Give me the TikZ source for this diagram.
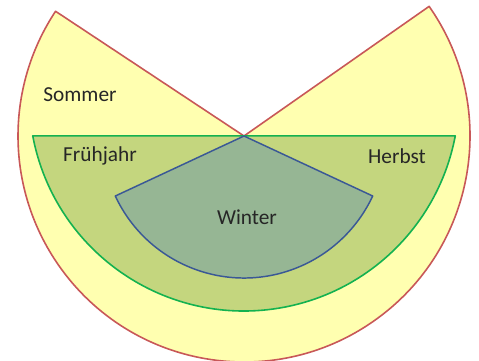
\documentclass[tikz,border=0pt]{standalone}
\usepackage{fontspec}
\setmainfont{Carlito}
\usepackage{tikz}

\definecolor{gelb}{RGB}{255,255,176}
\definecolor{rotlinie}{RGB}{200,88,88}
\definecolor{gruen}{RGB}{196,214,126}
\definecolor{gruenlinie}{RGB}{20,178,80}
\definecolor{blaugruen}{RGB}{150,182,148}
\definecolor{blaulinie}{RGB}{58,88,150}

\tikzset{
  jahreszeit/.style={font=\fontsize{16}{19}\selectfont, text=black!85},
}

\begin{document}
\begin{tikzpicture}[x=0.75pt, y=0.75pt, line join=round]

\useasboundingbox (0,0) rectangle (479,361);

% ============================================
% 1. SOMMER
% ============================================
\coordinate (C) at (244,225);
\fill[gelb] (C) -- ++(35:226) arc[start angle=35, end angle=-213.5, radius=226] -- cycle;
\draw[rotlinie, line width=1.2pt] (C) -- ++(35:226) arc[start angle=35, end angle=-213.5, radius=226] -- cycle;

% ============================================
% 2. FRUEHJAHR / HERBST
% ============================================
\coordinate (G) at (244,265);
\fill[gruen] (G) ++(190.7:215) arc[start angle=190.7, end angle=349.3, radius=215] -- cycle;
\draw[gruenlinie, line width=1.2pt] (G) ++(190.7:215) arc[start angle=190.7, end angle=349.3, radius=215] -- cycle;

% ============================================
% 3. WINTER
% ============================================
\fill[blaugruen] (C) -- ++(205:142) arc[start angle=205, end angle=335, radius=142] -- cycle;
\draw[blaulinie, line width=1.1pt] (C) -- ++(205:142) arc[start angle=205, end angle=335, radius=142] -- cycle;

% Beschriftungen
\node[jahreszeit] (sommer) at (80,266) {Sommer};
\node[jahreszeit] (fruehjahr) at (100,205) {Frühjahr};
\node[jahreszeit] (herbst) at (397,205) {Herbst};
\node[jahreszeit] (winter) at (247,144) {Winter};

\end{tikzpicture}
\end{document}
